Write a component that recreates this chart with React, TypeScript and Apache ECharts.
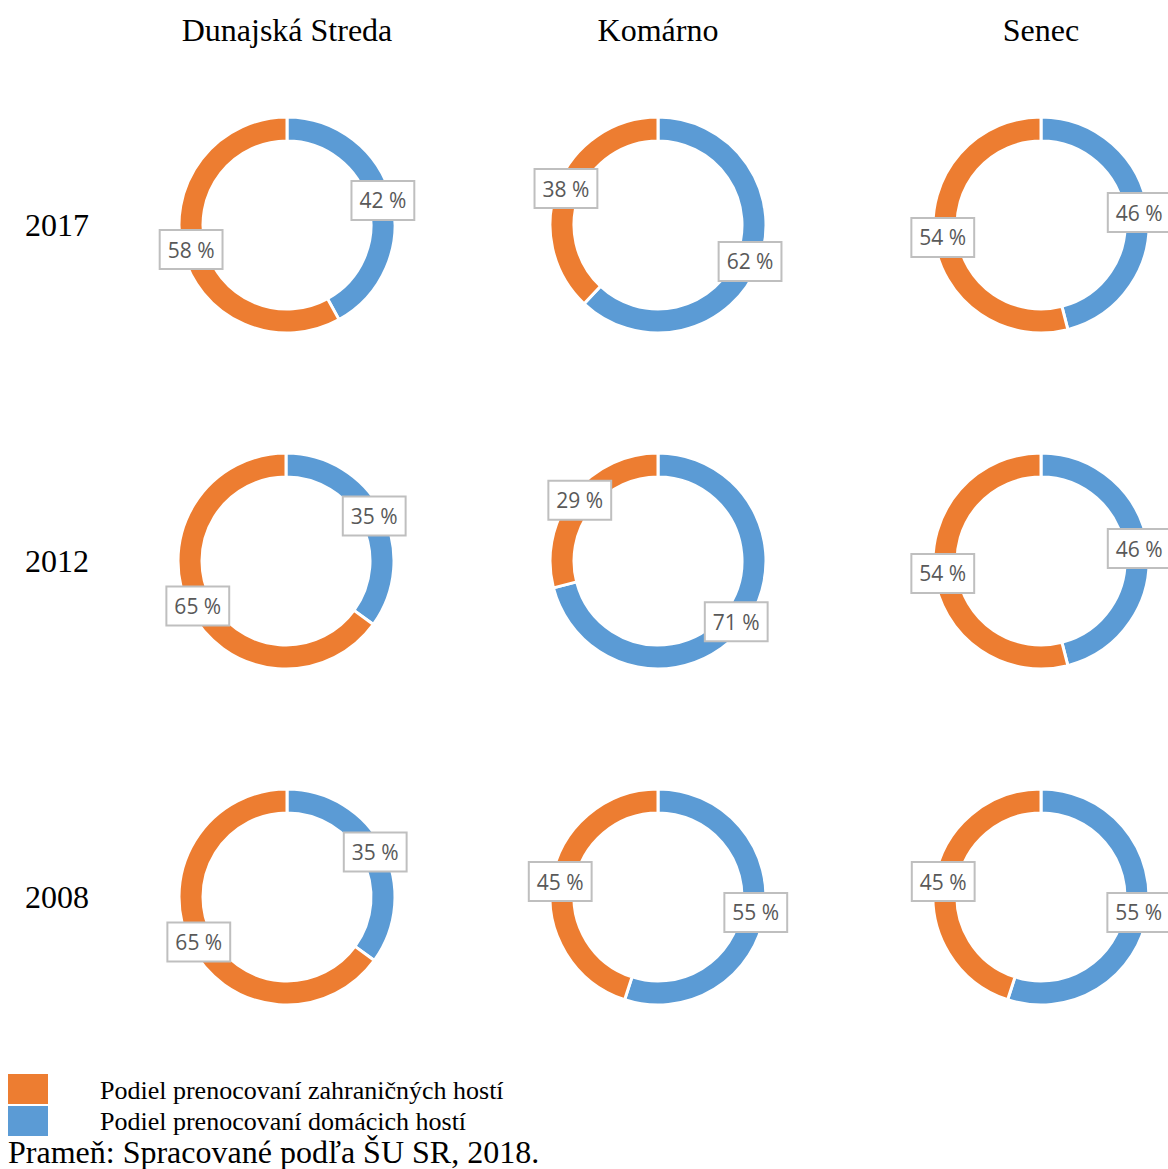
import React, { useEffect, useRef } from "react";
import * as echarts from "echarts";

const towns = ["Dunajská Streda", "Komárno", "Senec"];
const years = ["2017", "2012", "2008"];
const foreignName = "Podiel prenocovaní zahraničných hostí";
const domesticName = "Podiel prenocovaní domácich hostí";
// rows = years (2017, 2012, 2008), columns = towns
const domestic = [
  [42, 62, 46],
  [35, 71, 46],
  [35, 55, 55],
];
const foreign = [
  [58, 38, 54],
  [65, 29, 54],
  [65, 45, 45],
];
const sourceText = "Prameň: Spracované podľa ŠU SR, 2018.";

const colX = [287, 658, 1041];
const rowY = [225, 561, 897];
const BLUE = "#5B9BD5";
const ORANGE = "#ED7D31";
const SERIF = "'Liberation Serif', 'Times New Roman', serif";

export default function App() {
  const ref = useRef<HTMLDivElement>(null);
  useEffect(() => {
    if (!ref.current) return;
    const chart = echarts.init(ref.current, null, { renderer: "svg" });
    const series: any[] = [];
    years.forEach((y, r) => {
      towns.forEach((t, c) => {
        series.push({
          type: "pie",
          name: `${t} ${y}`,
          center: [colX[c] - (r === 1 && c === 0 ? 1 : 0), rowY[r]],
          radius: [84, 108],
          startAngle: 90,
          clockwise: true,
          avoidLabelOverlap: false,
          silent: true,
          itemStyle: { borderColor: "#fff", borderWidth: 3 },
          label: {
            show: true,
            position: "inside",
            formatter: "{c} %",
            fontFamily: "'Open Sans', sans-serif",
            fontSize: 21,
            color: "#595959",
            backgroundColor: "#fff",
            borderColor: "#BFBFBF",
            borderWidth: 2,
            padding: [9, 7, 7, 7],
          },
          labelLine: { show: false },
          data: [
            { name: domesticName, value: domestic[r][c], itemStyle: { color: BLUE } },
            { name: foreignName, value: foreign[r][c], itemStyle: { color: ORANGE } },
          ],
        });
      });
    });
    const graphics: any[] = [];
    towns.forEach((t, c) => {
      graphics.push({
        type: "text",
        x: colX[c],
        y: 30,
        style: {
          text: t,
          fontFamily: SERIF,
          fontSize: 32,
          fill: "#000",
          align: "center",
          verticalAlign: "middle",
        },
      });
    });
    years.forEach((y, r) => {
      graphics.push({
        type: "text",
        x: 57,
        y: rowY[r],
        style: {
          text: y,
          fontFamily: SERIF,
          fontSize: 32,
          fill: "#000",
          align: "center",
          verticalAlign: "middle",
        },
      });
    });
    // legend
    const legendItems = [
      { name: foreignName, color: ORANGE, top: 1074, textY: 1090 },
      { name: domesticName, color: BLUE, top: 1106, textY: 1121 },
    ];
    legendItems.forEach((it) => {
      graphics.push({
        type: "rect",
        shape: { x: 8, y: it.top, width: 40, height: 30 },
        style: { fill: it.color },
      });
      graphics.push({
        type: "text",
        x: 100,
        y: it.textY,
        style: {
          text: it.name,
          fontFamily: SERIF,
          fontSize: 26,
          fill: "#000",
          align: "left",
          verticalAlign: "middle",
        },
      });
    });
    graphics.push({
      type: "text",
      x: 8,
      y: 1152,
      style: {
        text: sourceText,
        fontFamily: SERIF,
        fontSize: 32,
        fill: "#000",
        align: "left",
        verticalAlign: "middle",
      },
    });
    chart.setOption({
      animation: false,
      backgroundColor: "#fff",
      graphic: graphics,
      series,
    });
    return () => chart.dispose();
  }, []);
  return (
    <div
      ref={ref}
      style={{ position: "fixed", left: 0, top: 0, width: 1168, height: 1169 }}
    />
  );
}
